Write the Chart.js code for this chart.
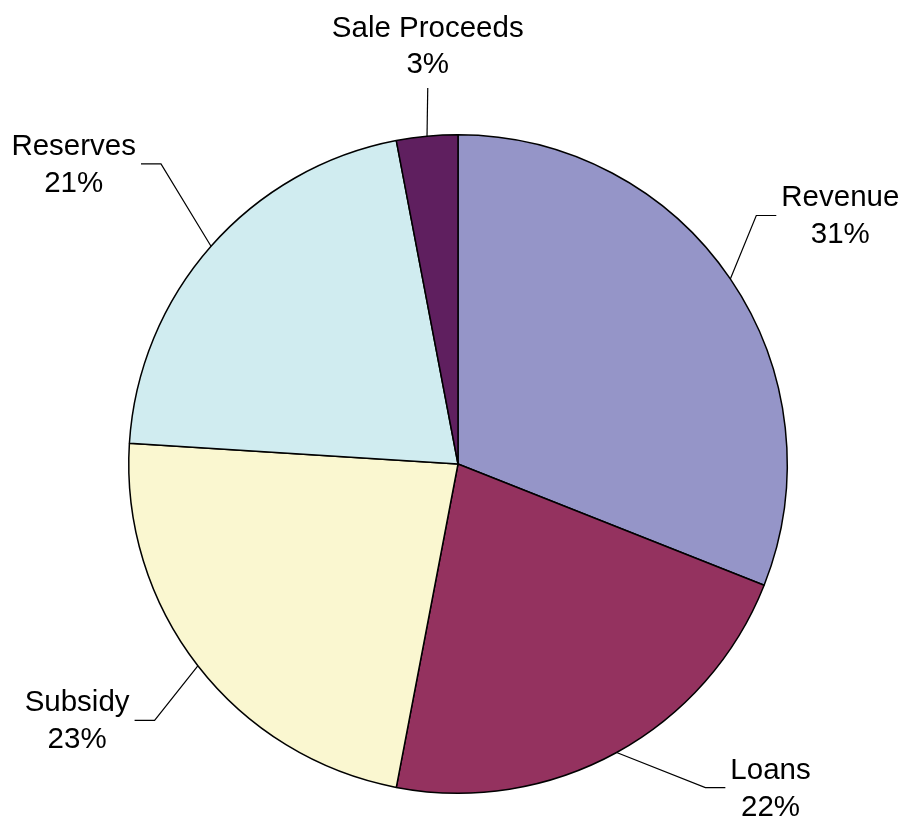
<!DOCTYPE html>
<html>
<head>
<meta charset="utf-8">
<title>Funding sources</title>
<script src="https://cdn.jsdelivr.net/npm/chart.js@4.4.1/dist/chart.umd.min.js"></script>
<style>
  html, body { margin: 0; padding: 0; background: #fff; }
  canvas { display: block; }
</style>
</head>
<body>
<canvas id="pie" width="903" height="818"></canvas>
<script>
// slices, clockwise from 12 o'clock
const categories = ["Revenue", "Loans", "Subsidy", "Reserves", "Sale Proceeds"];
const shares = [31, 22, 23, 21, 3];
const sliceColors = ["#9595C8", "#94325F", "#FAF7D0", "#D0ECF0", "#5F1F5F"];

// leader line bends: angle nudge (deg) and distance past the rim (px)
const bendAngle = [-5.6, -8.6, -2.4, 3.9, 0.8];
const bendReach = [59, 78, 68, 93, 48];

const FONT = "29.5px 'Liberation Sans', Arial, sans-serif";

const leaderLabels = {
  id: "leaderLabels",
  afterDatasetsDraw(chart) {
    const ctx = chart.ctx;
    const meta = chart.getDatasetMeta(0);
    ctx.save();
    ctx.font = FONT;
    ctx.fillStyle = "#000";
    ctx.strokeStyle = "#000";
    ctx.lineWidth = 1.2;
    meta.data.forEach(function (arc, i) {
      const mid = (arc.startAngle + arc.endAngle) / 2;
      const r = arc.outerRadius;
      const x0 = arc.x + r * Math.cos(mid);
      const y0 = arc.y + r * Math.sin(mid);
      const a = mid + bendAngle[i] * Math.PI / 180;
      const x1 = arc.x + (r + bendReach[i]) * Math.cos(a);
      const y1 = arc.y + (r + bendReach[i]) * Math.sin(a);
      const line1 = categories[i];
      const line2 = shares[i] + "%";
      const w = Math.max(ctx.measureText(line1).width, ctx.measureText(line2).width);

      ctx.beginPath();
      ctx.moveTo(x0, y0);
      ctx.lineTo(x1, y1);

      ctx.textAlign = "center";
      ctx.textBaseline = "alphabetic";
      const dx = x1 - arc.x;
      if (Math.abs(dx) < 40 && y1 < arc.y) {
        // label sits straight above the slice
        ctx.stroke();
        ctx.fillText(line1, x1, y1 - 51);
        ctx.fillText(line2, x1, y1 - 15);
      } else {
        const side = dx > 0 ? 1 : -1;
        const x2 = x1 + side * 20;
        ctx.lineTo(x2, y1);
        ctx.stroke();
        const cx = x2 + side * (5 + w / 2);
        ctx.fillText(line1, cx, y1 - 9);
        ctx.fillText(line2, cx, y1 + 28);
      }
    });
    ctx.restore();
  }
};

new Chart(document.getElementById("pie"), {
  type: "pie",
  data: {
    labels: categories,
    datasets: [{
      data: shares,
      backgroundColor: sliceColors,
      borderColor: "#000",
      borderWidth: 1.5
    }]
  },
  options: {
    responsive: false,
    animation: false,
    events: [],
    layout: { padding: { top: 134, bottom: 24, left: 128, right: 115 } },
    plugins: {
      legend: { display: false },
      tooltip: { enabled: false }
    }
  },
  plugins: [leaderLabels]
});
</script>
</body>
</html>
